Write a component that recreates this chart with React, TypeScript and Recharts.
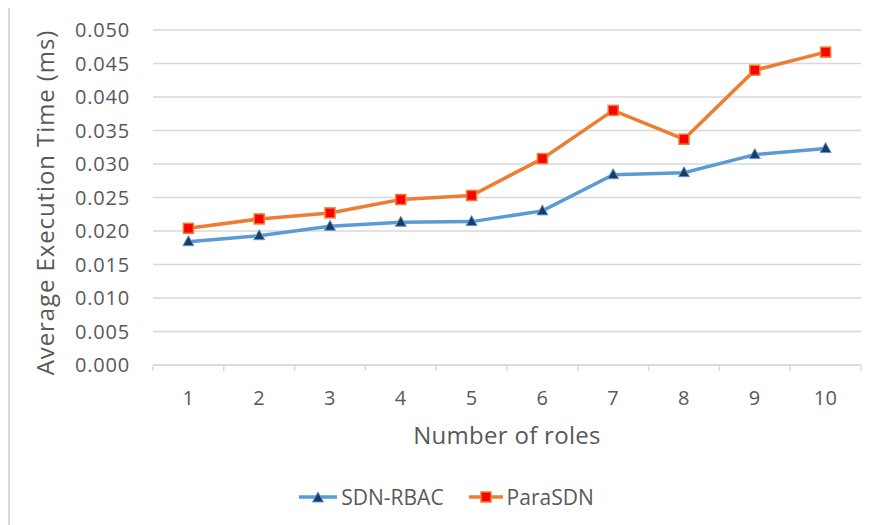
import React from "react";
import {
  LineChart,
  Line,
  CartesianGrid,
  XAxis,
  YAxis,
  Legend,
} from "recharts";

const roles = [1, 2, 3, 4, 5, 6, 7, 8, 9, 10];
const sdnRbac = [0.0184, 0.0193, 0.0207, 0.0213, 0.0214, 0.023, 0.0284, 0.0287, 0.0314, 0.0323];
const paraSdn = [0.0204, 0.0218, 0.0227, 0.0247, 0.0253, 0.0308, 0.038, 0.0337, 0.044, 0.0467];
const yTicks = [0, 0.005, 0.01, 0.015, 0.02, 0.025, 0.03, 0.035, 0.04, 0.045, 0.05];
// band edges + centres: labels sit on the integers, tick marks on the halves
const xTicks = [0.5, 1, 1.5, 2, 2.5, 3, 3.5, 4, 4.5, 5, 5.5, 6, 6.5, 7, 7.5, 8, 8.5, 9, 9.5, 10, 10.5];

const chartData = roles.map((r, i) => ({
  role: r,
  sdnRbac: sdnRbac[i],
  paraSdn: paraSdn[i],
}));

const FONT = "'Open Sans', sans-serif";
const TEXT = "#595959";
const GRID = "#d9d9d9";
const BLUE = "#5B9BD5";
const ORANGE = "#ED7D31";

const RoleTick = (props: any) => {
  const { x, y, payload } = props;
  const v = payload.value;
  if (Number.isInteger(v)) {
    return (
      <text
        x={x}
        y={y + 40}
        textAnchor="middle"
        fill={TEXT}
        fontSize={20}
        fontFamily={FONT}
        style={{ letterSpacing: "0.5px" }}
      >
        {v}
      </text>
    );
  }
  return <line x1={x} x2={x} y1={y} y2={y + 6} stroke={GRID} strokeWidth={1.5} />;
};

const TriangleDot = (props: any) => {
  const { cx, cy } = props;
  if (cx == null || cy == null) return null;
  return (
    <path
      d={`M${cx},${cy - 6} L${cx + 5.5},${cy + 4} L${cx - 5.5},${cy + 4} Z`}
      fill="#203864"
      stroke={BLUE}
      strokeWidth={1}
    />
  );
};

const SquareDot = (props: any) => {
  const { cx, cy } = props;
  if (cx == null || cy == null) return null;
  return (
    <rect x={cx - 5} y={cy - 5} width={10} height={10} fill="#FF0000" stroke={ORANGE} strokeWidth={1.5} />
  );
};

const LegendContent = () => (
  <div
    style={{
      display: "flex",
      justifyContent: "center",
      alignItems: "center",
      marginLeft: 22,
      fontFamily: FONT,
      fontSize: 21,
      color: TEXT,
    }}
  >
    <svg width={40} height={14}>
      <line x1={1} x2={39} y1={7} y2={7} stroke={BLUE} strokeWidth={3.5} />
      <TriangleDot cx={20} cy={8} />
    </svg>
    <span style={{ marginLeft: 3, marginRight: 24 }}>SDN-RBAC</span>
    <svg width={36} height={14}>
      <line x1={1} x2={35} y1={7} y2={7} stroke={ORANGE} strokeWidth={3.5} />
      <SquareDot cx={18} cy={7} />
    </svg>
    <span style={{ marginLeft: 3 }}>ParaSDN</span>
  </div>
);

export default function App() {
  return (
    <div
      style={{
        position: "relative",
        margin: "-8px 0 0 -8px",
        width: 870,
        height: 525,
        background: "#fff",
        overflow: "hidden",
      }}
    >
      <div
        style={{
          position: "absolute",
          left: 8,
          top: 5,
          right: -4,
          bottom: -4,
          borderLeft: `2px solid ${GRID}`,
          borderTop: `2px solid ${GRID}`,
        }}
      />
      <LineChart
        width={870}
        height={525}
        data={chartData}
        margin={{ top: 30, right: 9, left: 0, bottom: 0 }}
      >
        <CartesianGrid vertical={false} stroke={GRID} strokeWidth={1.5} />
        <XAxis
          dataKey="role"
          type="number"
          domain={[0.5, 10.5]}
          ticks={xTicks}
          interval={0}
          height={160}
          tickLine={false}
          tickSize={0}
          tickMargin={0}
          axisLine={{ stroke: GRID, strokeWidth: 1.5 }}
          tick={<RoleTick />}
          label={{
            value: "Number of roles",
            position: "insideTop",
            offset: 62,
            style: { fill: TEXT, fontSize: 24, fontFamily: FONT, letterSpacing: "0.3px" },
          }}
        />
        <YAxis
          domain={[0, 0.05]}
          ticks={yTicks}
          interval={0}
          width={153}
          tickLine={false}
          axisLine={false}
          tickMargin={17}
          tickFormatter={(v: number) => v.toFixed(3)}
          tick={{ fill: TEXT, fontSize: 20, fontFamily: FONT, style: { letterSpacing: "0.8px" } }}
          label={{
            value: "Average Execution Time (ms)",
            angle: -90,
            position: "insideLeft",
            offset: 45,
            dy: 5,
            style: { textAnchor: "middle", fill: TEXT, fontSize: 24, fontFamily: FONT, letterSpacing: "0.9px" },
          }}
        />
        <Legend
          verticalAlign="middle"
          align="center"
          wrapperStyle={{ top: 483, left: 0, width: 870 }}
          content={<LegendContent />}
        />
        <Line
          type="linear"
          dataKey="sdnRbac"
          name="SDN-RBAC"
          stroke={BLUE}
          strokeWidth={3.5}
          dot={<TriangleDot />}
          activeDot={false}
          isAnimationActive={false}
        />
        <Line
          type="linear"
          dataKey="paraSdn"
          name="ParaSDN"
          stroke={ORANGE}
          strokeWidth={3.5}
          dot={<SquareDot />}
          activeDot={false}
          isAnimationActive={false}
        />
      </LineChart>
    </div>
  );
}
